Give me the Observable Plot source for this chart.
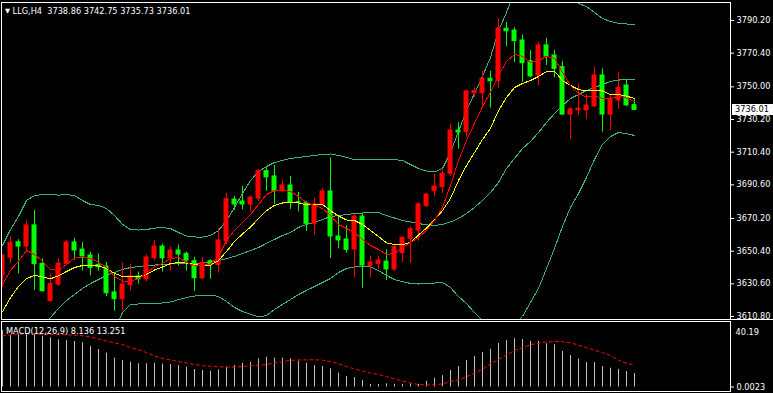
<!DOCTYPE html>
<html><head><meta charset="utf-8">
<script src="https://cdn.jsdelivr.net/npm/d3@7"></script>
<script src="https://cdn.jsdelivr.net/npm/@observablehq/plot@0.6"></script>
<style>
html,body{margin:0;padding:0;background:#000;}
#wrap{position:relative;width:773px;height:393px;overflow:hidden;background:#000;font-family:"DejaVu Sans",sans-serif;font-size:8.2px;color:#fff;}
#wrap svg{position:absolute;left:0;display:block;}
.lbl{position:absolute;white-space:pre;line-height:1;}
</style></head><body><div id="wrap"></div>
<script>
const symbolName = "LLG,H4";
const lastQuote = [3738.86, 3742.75, 3735.73, 3736.01];
const macdTitle = "MACD(12,26,9) 8.136 13.251";
const priceTicks = [3790.20, 3770.40, 3750.00, 3730.20, 3710.40, 3690.60, 3670.20, 3650.40, 3630.60, 3610.80];
const macdTopLabel = 40.19;
const macdBottomLabel = "0.0023";

const open  = [3635.7,3646.4,3655.8,3653.2,3666.0,3642.7,3620.1,3630.2,3642.7,3655.7,3651.4,3647.8,3642.1,3641.1,3625.4,3621.3,3629.8,3635.1,3633.4,3646.1,3653.2,3646.1,3650.8,3648.8,3644.3,3634.0,3644.3,3642.1,3656.3,3681.7,3680.5,3678.7,3682.3,3698.9,3695.7,3686.7,3690.2,3680.1,3679.5,3667.0,3678.1,3686.6,3659.3,3657.5,3651.4,3671.4,3641.5,3642.7,3644.1,3639.3,3649.2,3657.9,3662.9,3677.9,3686.7,3689.2,3697.3,3723.5,3722.5,3746.1,3746.1,3754.9,3753.4,3785.2,3784.1,3778.1,3765.5,3756.9,3775.1,3769.0,3761.9,3733.2,3735.8,3735.7,3738.1,3756.9,3733.2,3741.7,3750.8,3738.86];
const high  = [3648.4,3659.3,3657.3,3668.6,3675.1,3645.8,3636.7,3645.7,3656.9,3658.3,3655.7,3649.6,3648.8,3643.5,3637.5,3643.1,3642.3,3637.7,3648.2,3656.9,3654.4,3652.8,3654.0,3649.8,3646.7,3646.7,3645.1,3664.0,3685.5,3683.5,3689.6,3684.0,3699.7,3700.9,3702.3,3693.2,3695.7,3686.0,3680.5,3682.7,3688.4,3707.0,3671.4,3665.8,3672.6,3673.4,3647.2,3647.2,3651.2,3653.8,3658.9,3665.4,3679.9,3685.5,3696.9,3700.5,3727.2,3728.2,3747.8,3749.4,3759.3,3759.3,3791.2,3789.0,3785.8,3781.5,3772.0,3777.1,3779.5,3772.0,3765.4,3737.3,3751.8,3745.4,3761.9,3760.9,3744.7,3758.9,3753.8,3742.75];
const low   = [3628.4,3642.9,3636.7,3649.8,3626.6,3625.7,3619.7,3629.0,3641.7,3644.7,3638.3,3635.5,3638.3,3622.9,3614.0,3614.0,3626.1,3630.6,3632.0,3644.7,3637.7,3638.3,3641.5,3638.3,3626.1,3633.2,3633.4,3637.1,3654.4,3675.1,3675.5,3674.3,3680.5,3686.7,3678.7,3686.3,3675.7,3674.3,3662.5,3660.1,3677.5,3646.0,3651.8,3649.2,3634.1,3628.0,3634.3,3639.1,3632.6,3638.1,3643.5,3643.1,3656.4,3676.9,3683.5,3685.4,3695.7,3712.4,3719.3,3743.4,3738.1,3737.1,3748.8,3774.4,3764.7,3752.8,3755.5,3750.8,3762.9,3755.5,3732.6,3717.9,3732.6,3730.0,3737.5,3722.5,3723.5,3736.4,3738.1,3735.73];
const close = [3647.8,3655.5,3653.2,3666.0,3642.5,3626.1,3630.6,3642.9,3655.7,3650.8,3647.2,3640.3,3640.7,3624.9,3621.3,3630.2,3635.1,3633.4,3646.6,3653.2,3646.1,3650.8,3648.4,3644.7,3634.0,3643.5,3641.9,3656.9,3681.9,3678.7,3678.7,3682.9,3698.9,3695.1,3686.7,3690.2,3679.7,3679.7,3667.0,3678.7,3686.6,3659.3,3656.9,3651.2,3671.4,3641.7,3643.5,3644.7,3639.3,3652.8,3658.5,3663.7,3678.7,3684.7,3689.6,3697.3,3723.5,3722.3,3747.2,3747.4,3754.9,3753.4,3785.4,3783.7,3777.7,3764.3,3756.3,3775.1,3768.4,3760.9,3733.2,3736.3,3736.7,3738.7,3756.9,3733.2,3742.7,3749.4,3738.7,3736.01];

const maFast = [3630.2,3638.8,3644.3,3650.8,3648.4,3644.3,3639.3,3638.7,3642.3,3646.3,3646.9,3645.9,3643.8,3640.5,3635.1,3632.3,3632.3,3633.8,3636.9,3641.1,3642.9,3645.9,3646.6,3643.5,3641.7,3641.7,3642.6,3647.2,3656.9,3663.0,3667.8,3672.6,3678.7,3684.7,3687.2,3687.5,3686.6,3683.5,3679.9,3678.1,3676.3,3672.0,3666.6,3664.1,3661.7,3657.5,3653.8,3651.4,3648.4,3649.0,3652.6,3655.7,3658.7,3663.0,3669.0,3676.9,3690.2,3705.4,3717.5,3727.8,3738.1,3746.6,3756.9,3765.4,3769.6,3768.4,3764.7,3765.9,3768.4,3767.2,3758.7,3750.8,3745.9,3743.8,3744.7,3742.9,3742.9,3744.4,3743.2,3741.1];
const maSlow = [3613.8,3622.3,3629.0,3633.8,3635.7,3634.8,3633.7,3635.4,3638.1,3640.5,3641.7,3641.7,3641.4,3639.9,3636.9,3635.1,3634.9,3634.8,3636.3,3639.0,3640.8,3642.9,3643.5,3643.2,3642.3,3641.7,3642.0,3644.7,3650.2,3656.3,3660.8,3665.0,3670.2,3675.0,3678.1,3679.6,3679.9,3679.6,3678.4,3678.7,3678.7,3675.0,3671.7,3669.3,3669.0,3666.6,3663.0,3659.3,3655.4,3654.4,3654.4,3655.7,3660.2,3664.4,3669.3,3675.0,3682.3,3693.2,3702.3,3710.2,3718.1,3724.8,3735.6,3743.5,3749.6,3752.0,3753.8,3756.3,3759.3,3759.5,3753.8,3750.8,3748.4,3747.5,3747.5,3747.5,3745.3,3745.3,3744.4,3742.9];
const bbUpper = [3653.8,3663.5,3671.4,3681.1,3684.1,3684.7,3684.7,3684.4,3684.7,3684.1,3681.1,3678.7,3678.1,3676.3,3672.0,3666.6,3663.5,3663.2,3663.5,3664.4,3664.7,3664.1,3661.7,3659.6,3659.0,3658.9,3659.9,3662.9,3669.0,3676.9,3685.3,3693.2,3698.7,3701.7,3704.1,3705.4,3706.6,3707.2,3707.8,3708.4,3709.0,3709.3,3708.4,3707.2,3705.9,3705.9,3705.9,3705.9,3705.9,3705.9,3705.4,3702.9,3700.5,3699.0,3698.4,3700.5,3710.2,3722.9,3735.6,3746.0,3756.3,3767.8,3784.1,3795.0,3807.9,3814.4,3814.5,3816.8,3816.9,3815.6,3812.0,3808.0,3800.5,3798.7,3795.0,3791.4,3789.6,3788.4,3788.1,3787.8];
const bbMiddle = [3591.4,3592.6,3595.0,3597.5,3601.1,3605.3,3610.2,3615.7,3620.5,3624.1,3627.8,3630.8,3633.2,3635.7,3637.5,3639.3,3640.5,3641.1,3641.7,3642.0,3642.3,3642.6,3642.9,3642.9,3642.9,3643.2,3643.5,3644.7,3645.9,3647.2,3649.0,3650.8,3652.6,3655.1,3657.5,3659.9,3661.7,3664.8,3666.6,3667.8,3669.6,3671.4,3672.0,3672.6,3673.2,3673.5,3673.8,3673.8,3672.0,3670.5,3669.0,3668.1,3667.2,3666.3,3666.0,3666.6,3668.1,3670.2,3673.2,3676.9,3681.1,3685.9,3692.0,3700.5,3706.6,3712.6,3716.9,3722.3,3728.4,3733.8,3738.7,3742.9,3745.3,3747.8,3749.6,3751.4,3753.2,3754.1,3754.4,3754.4];
const bbLower = [3529.0,3521.7,3518.6,3513.9,3518.1,3525.9,3535.7,3547.0,3556.3,3564.1,3574.5,3582.9,3588.3,3595.1,3603.0,3613.2,3618.1,3618.4,3618.7,3618.7,3619.0,3619.6,3621.1,3622.3,3623.2,3623.5,3623.8,3622.9,3619.9,3616.3,3613.8,3612.3,3610.5,3611.4,3615.1,3618.1,3621.1,3624.1,3626.6,3629.0,3631.4,3633.8,3637.5,3639.9,3640.8,3641.1,3640.8,3638.7,3635.7,3633.2,3632.0,3630.8,3630.5,3630.8,3631.1,3631.4,3628.4,3622.9,3618.7,3613.2,3608.4,3604.8,3599.3,3599.9,3605.3,3610.8,3619.3,3627.8,3639.9,3652.0,3665.4,3676.9,3685.3,3695.1,3706.0,3715.1,3719.9,3722.3,3721.7,3720.5];

const macdMain = [34.3,31.2,31.6,32.2,32.2,30.8,29.8,28.6,28.1,27.6,26.8,24.6,22.7,20.5,17.5,16.1,15.0,14.1,14.1,14.4,13.8,13.6,13.0,12.0,10.6,10.0,9.6,10.4,12.0,13.0,14.4,15.0,17.1,18.0,17.5,17.5,17.1,15.7,14.4,13.0,12.4,11.0,8.4,6.3,5.7,4.0,1.5,1.5,1.9,1.6,1.6,1.9,1.6,3.4,5.3,6.9,10.0,12.4,16.1,18.5,20.9,22.9,26.4,28.1,29.2,28.8,27.7,27.6,26.2,25.6,21.5,19.1,16.9,14.8,14.8,12.4,11.4,10.7,9.4,8.136];
const macdSignal = [31.0,31.6,32.1,32.2,32.2,32.0,31.8,31.7,31.6,31.4,31.1,30.3,29.1,27.9,26.7,25.8,23.9,22.5,20.9,18.8,17.3,16.4,15.4,14.6,13.6,12.9,12.6,12.3,12.0,12.1,12.4,12.9,13.2,13.6,14.6,15.4,16.1,16.4,16.5,16.5,16.3,15.4,14.1,12.4,10.9,9.6,8.5,7.6,6.3,5.0,3.6,2.4,1.5,1.3,1.4,1.8,3.4,4.2,6.2,8.5,10.7,14.1,16.7,19.4,22.1,23.9,25.6,26.5,27.3,27.6,27.5,26.8,25.4,23.9,22.3,20.8,19.1,16.2,14.5,13.251];

const BULL = "#ff0000", BEAR = "#00ff00", BAND = "#3cb371", FAST = "#ff0000", SLOW = "#ffff00", HIST = "#c0c0c0";

const rows = open.map((o, i) => ({
  i, open: o, high: high[i], low: low[i], close: close[i],
  color: close[i] >= o ? BULL : BEAR,
  maFast: maFast[i], maSlow: maSlow[i],
  bbUpper: bbUpper[i], bbMiddle: bbMiddle[i], bbLower: bbLower[i],
  macd: macdMain[i], signal: macdSignal[i]
}));

const W = 773;
const xDomain = [-0.125, 91];
const baseStyle = {background: "#000", color: "#fff", fontFamily: "DejaVu Sans, sans-serif", fontSize: "8.2px", overflow: "visible"};

const main = Plot.plot({
  width: W, height: 320,
  marginLeft: 1, marginRight: 43, marginTop: 2, marginBottom: 1,
  style: baseStyle,
  x: {domain: xDomain, axis: null},
  y: {domain: [3608.99, 3801.11], axis: null},
  marks: [
    Plot.line(rows, {x: "i", y: "bbUpper", stroke: BAND, strokeWidth: 1, clip: true, shapeRendering: "crispEdges"}),
    Plot.line(rows, {x: "i", y: "bbMiddle", stroke: BAND, strokeWidth: 1, clip: true, shapeRendering: "crispEdges"}),
    Plot.line(rows, {x: "i", y: "bbLower", stroke: BAND, strokeWidth: 1, clip: true, shapeRendering: "crispEdges"}),
    Plot.ruleX(rows, {x: "i", y1: "low", y2: "high", stroke: "color", strokeWidth: 1, clip: true}),
    Plot.rect(rows, {x1: d => d.i - 0.25, x2: d => d.i + 0.25, y1: "open", y2: "close", fill: "color", stroke: "color", strokeWidth: 1, clip: true}),
    Plot.line(rows, {x: "i", y: "maSlow", stroke: SLOW, strokeWidth: 1, clip: true, shapeRendering: "crispEdges"}),
    Plot.line(rows, {x: "i", y: "maFast", stroke: FAST, strokeWidth: 1, clip: true, shapeRendering: "crispEdges"}),
    Plot.frame({stroke: "#fff"}),
    Plot.axisY(priceTicks, {anchor: "right", tickSize: 3, tickPadding: 3, tickFormat: d => d.toFixed(2), stroke: "#fff", fill: "#fff", fontSize: 8.2})
  ]
});

const macd = Plot.plot({
  width: W, height: 73,
  marginLeft: 1, marginRight: 43, marginTop: 1, marginBottom: 2,
  style: baseStyle,
  x: {domain: xDomain, axis: null},
  y: {domain: [-2.727, 39.697], axis: null},
  marks: [
    Plot.ruleX(rows, {x: "i", y1: 0, y2: "macd", stroke: HIST, strokeWidth: 1}),
    Plot.line(rows, {x: "i", y: "signal", stroke: "#ff0000", strokeWidth: 1, strokeDasharray: "3,3"}),
    Plot.frame({stroke: "#fff"}),
    Plot.text([macdTopLabel], {frameAnchor: "top-right", dx: 5, dy: 8, textAnchor: "start", text: d => d.toFixed(2), fill: "#fff", fontSize: 8.2}),
    Plot.axisY([0], {anchor: "right", tickSize: 3, tickPadding: 3, tickFormat: () => macdBottomLabel, stroke: "#fff", fill: "#fff", fontSize: 8.2})
  ]
});

const wrap = document.getElementById("wrap");
main.style.position = "absolute"; main.style.top = "0px";
macd.style.position = "absolute"; macd.style.top = "320px";
wrap.appendChild(main);
wrap.appendChild(macd);

// separator line across the axis area
const sep = document.createElement("div");
sep.style.cssText = "position:absolute;left:730px;top:319px;width:43px;height:1px;background:#fff;";
wrap.appendChild(sep);

// title
const title = document.createElement("div");
title.className = "lbl";
title.style.left = "5px"; title.style.top = "6.7px";
title.innerHTML = '<span style="font-size:6.5px;vertical-align:1px">\u25BC</span> ' + symbolName + "  " + lastQuote.map(v => v.toFixed(2)).join(" ");
wrap.appendChild(title);

// MACD caption
const mt = document.createElement("div");
mt.className = "lbl";
mt.style.left = "6px"; mt.style.top = "326.7px";
mt.textContent = macdTitle;
wrap.appendChild(mt);

// last price box
const lastClose = close[close.length - 1];
const yc = main.scale("y").apply(lastClose);
const box = document.createElement("div");
box.style.cssText = "position:absolute;left:732px;width:41px;height:11px;background:#fff;color:#000;font-size:8.2px;line-height:11px;padding-left:3px;box-sizing:border-box;white-space:pre;";
box.style.top = (yc - 5) + "px";
box.textContent = lastClose.toFixed(2);
wrap.appendChild(box);
</script></body></html>
